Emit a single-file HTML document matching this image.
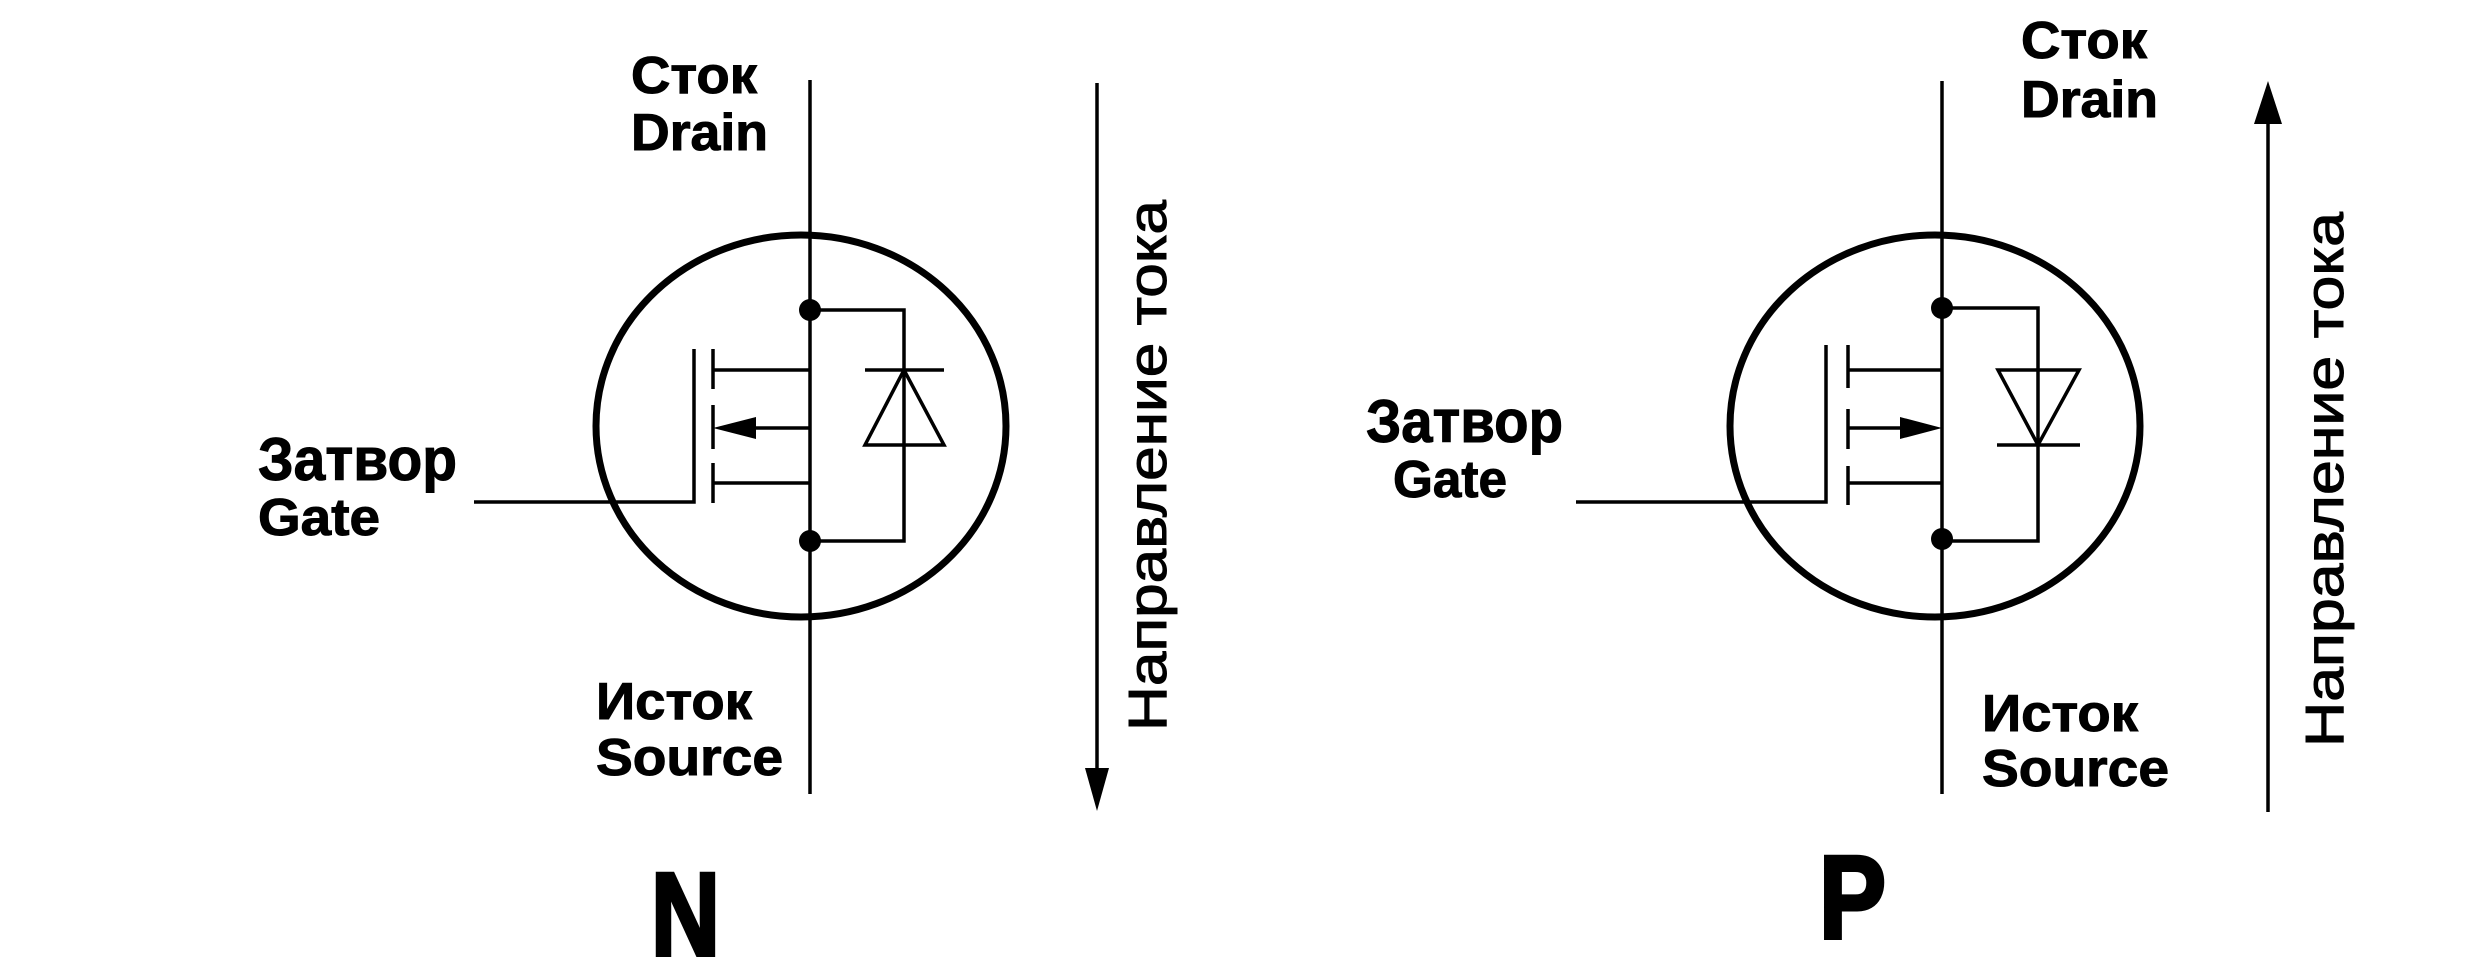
<!DOCTYPE html>
<html><head><meta charset="utf-8"><style>html,body{margin:0;padding:0;background:#fff}svg{display:block}</style></head>
<body>
<svg width="2482" height="980" viewBox="0 0 2482 980" xmlns="http://www.w3.org/2000/svg" font-family="'Liberation Sans', sans-serif">
<g stroke="#000" fill="none" stroke-width="3.5">
<!-- N -->
<line x1="810" y1="80" x2="810" y2="794"/>
<ellipse cx="801" cy="426" rx="205" ry="191" stroke-width="7"/>
<polyline points="810,310 904,310 904,541 810,541"/>
<line x1="865" y1="370" x2="944" y2="370"/>
<polygon points="904,370 865,445 944,445"/>
<polyline points="474,502 694,502 694,349"/>
<line x1="713" y1="349" x2="713" y2="389"/>
<line x1="713" y1="405" x2="713" y2="449"/>
<line x1="713" y1="463" x2="713" y2="503"/>
<line x1="713" y1="370" x2="810" y2="370"/>
<line x1="740" y1="428" x2="810" y2="428"/>
<line x1="713" y1="483" x2="810" y2="483"/>
<line x1="1097" y1="83" x2="1097" y2="780"/>
<!-- P -->
<line x1="1942" y1="81" x2="1942" y2="794"/>
<ellipse cx="1935" cy="426" rx="205" ry="191" stroke-width="7"/>
<polyline points="1942,308 2038,308 2038,541 1942,541"/>
<line x1="1997" y1="445" x2="2080" y2="445"/>
<polygon points="1998,370 2079,370 2038,445"/>
<polyline points="1576,502 1826,502 1826,345"/>
<line x1="1848" y1="345" x2="1848" y2="388"/>
<line x1="1848" y1="409" x2="1848" y2="449"/>
<line x1="1848" y1="466" x2="1848" y2="505"/>
<line x1="1848" y1="370" x2="1942" y2="370"/>
<line x1="1848" y1="428" x2="1910" y2="428"/>
<line x1="1848" y1="483" x2="1942" y2="483"/>
<line x1="2268" y1="110" x2="2268" y2="812"/>
</g>
<g fill="#000">
<circle cx="810" cy="310" r="11"/><circle cx="810" cy="541" r="11"/>
<polygon points="713,428 756,417 756,439"/>
<polygon points="1097,811 1085,768 1109,768"/>
<circle cx="1942" cy="308" r="11"/><circle cx="1942" cy="539" r="11"/>
<polygon points="1942,428 1900,417 1900,439"/>
<polygon points="2268,81 2254,124 2282,124"/>
</g>
<g font-weight="bold" font-size="52" stroke="#000" stroke-width="1">
<text x="631" y="93" textLength="126" lengthAdjust="spacingAndGlyphs">Сток</text>
<text x="631" y="150" textLength="137" lengthAdjust="spacingAndGlyphs">Drain</text>
<text x="596" y="719" textLength="156" lengthAdjust="spacingAndGlyphs">Исток</text>
<text x="596" y="775" textLength="187" lengthAdjust="spacingAndGlyphs">Source</text>
<text x="2021" y="58" textLength="126" lengthAdjust="spacingAndGlyphs">Сток</text>
<text x="2021" y="117" textLength="137" lengthAdjust="spacingAndGlyphs">Drain</text>
<text x="1982" y="731" textLength="156" lengthAdjust="spacingAndGlyphs">Исток</text>
<text x="1982" y="786" textLength="187" lengthAdjust="spacingAndGlyphs">Source</text>
<text x="258" y="480" font-size="60" textLength="199" lengthAdjust="spacingAndGlyphs">Затвор</text>
<text x="258" y="535" font-size="52" textLength="122" lengthAdjust="spacingAndGlyphs">Gate</text>
<text x="1366" y="442" font-size="60" textLength="197" lengthAdjust="spacingAndGlyphs">Затвор</text>
<text x="1393" y="497" font-size="52" textLength="114" lengthAdjust="spacingAndGlyphs">Gate</text>
<text x="651" y="955" font-size="118" stroke-width="4" textLength="69" lengthAdjust="spacingAndGlyphs">N</text>
<text x="1819" y="938" font-size="118" stroke-width="4" textLength="67" lengthAdjust="spacingAndGlyphs">P</text>
</g>
<g font-size="54" stroke="#000" stroke-width="1">
<text transform="translate(1166,731) rotate(-90)" textLength="531" lengthAdjust="spacingAndGlyphs">Направление тока</text>
<text transform="translate(2343,747) rotate(-90)" textLength="535" lengthAdjust="spacingAndGlyphs">Направление тока</text>
</g>
</svg>
</body></html>
